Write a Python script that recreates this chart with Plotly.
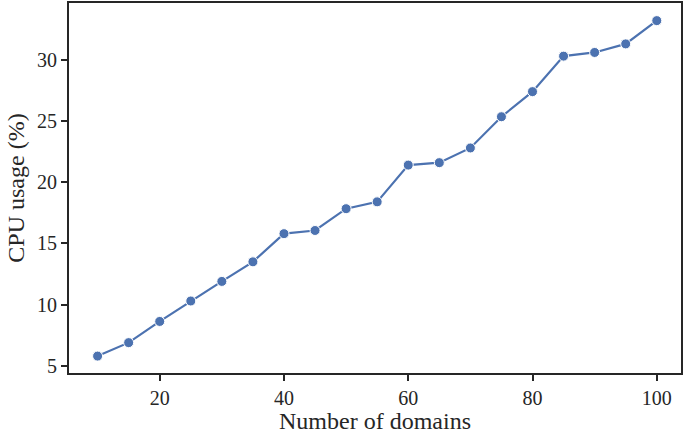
import plotly.graph_objects as go

# number of domains vs CPU usage
domains = [10, 15, 20, 25, 30, 35, 40, 45, 50, 55, 60, 65, 70, 75, 80, 85, 90, 95, 100]
cpu_usage = [5.8, 6.9, 8.63, 10.3, 11.9, 13.5, 15.8, 16.06, 17.84, 18.4,
             21.4, 21.6, 22.8, 25.35, 27.4, 30.3, 30.6, 31.3, 33.2]

x_ticks = [20, 40, 60, 80, 100]
y_ticks = [5, 10, 15, 20, 25, 30]

fig = go.Figure()
fig.add_trace(go.Scatter(
    x=domains, y=cpu_usage, mode='lines+markers',
    line=dict(color='#4C72B0', width=2.2),
    marker=dict(size=10, color='#4C72B0', line=dict(color='white', width=1)),
    showlegend=False,
))

axis_style = dict(
    showline=True, linecolor='#262626', linewidth=1.8, mirror=True,
    showgrid=False, zeroline=False,
    ticks='outside', ticklen=6, tickwidth=1.8, tickcolor='#262626',
    tickfont=dict(family='Liberation Serif', size=20, color='#262626'),
    title_font=dict(family='Liberation Serif', size=24, color='#262626'),
)

fig.update_xaxes(range=[5.4, 103.9], tickvals=x_ticks, title_text='Number of domains',
                 title_standoff=4, **axis_style)
fig.update_yaxes(range=[4.42, 34.64], tickvals=y_ticks, title_text='CPU usage (%)',
                 title_standoff=6, **axis_style)

fig.update_layout(
    width=685, height=434,
    margin=dict(l=69, r=4, t=1, b=61),
    plot_bgcolor='white', paper_bgcolor='white',
)

# drop the default page margin so the figure fills the window
fig.write_html("out.html", config={'displayModeBar': False},
               post_script="document.body.style.margin='0';")
